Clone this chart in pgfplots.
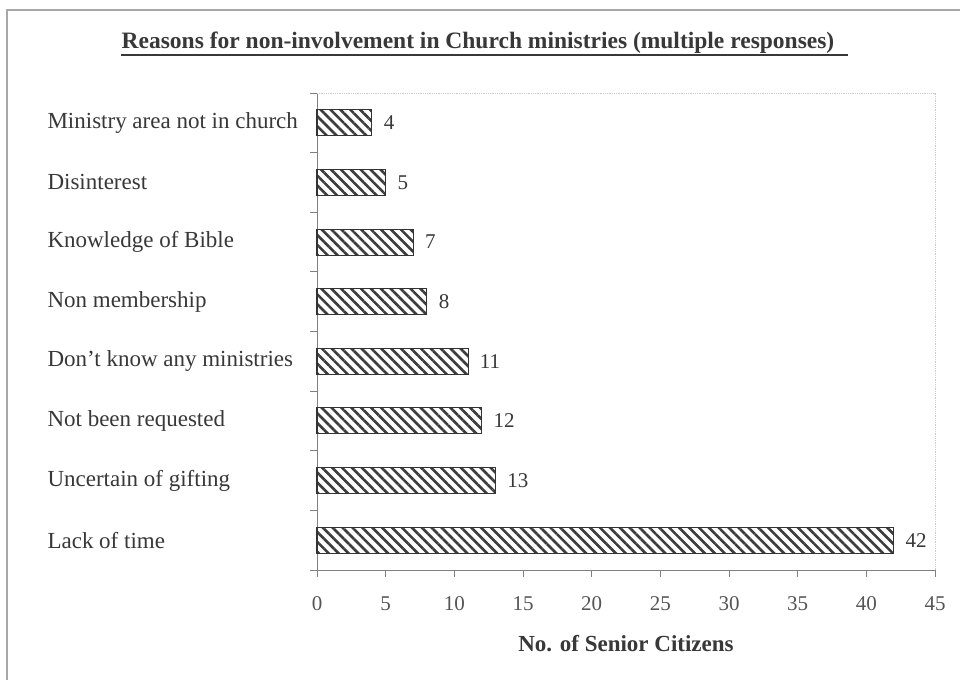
\documentclass[border=0pt]{standalone}
\usepackage{fontspec}
\setmainfont{Liberation Serif}
\usepackage{pgfplots}
\pgfplotsset{compat=1.18}
\usetikzlibrary{patterns.meta}

\definecolor{txt}{HTML}{383838}
\definecolor{ticktxt}{HTML}{555555}
\definecolor{axisgray}{HTML}{808080}
\definecolor{framegray}{HTML}{A8A8A8}
\definecolor{hatch}{HTML}{3C3C3C}

\begin{document}
\begin{tikzpicture}
  % page area and outer frame
  \path[use as bounding box] (0pt,0pt) rectangle (960pt,680pt);
  \fill[white] (0pt,0pt) rectangle (960pt,680pt);
  \draw[framegray, line width=1.2pt] (7pt,0pt) -- (7pt,670pt) -- (960pt,670pt);

  % underlined title
  \node[anchor=base, font=\fontsize{23.5}{27}\selectfont\bfseries, text=txt]
    at (478pt,631pt) {Reasons for non-involvement in Church ministries (multiple responses)};
  \draw[txt, line width=1.1pt] (121pt,625pt) -- (848pt,625pt);

  \begin{axis}[
    at={(317pt,110pt)}, anchor=south west,
    scale only axis, width=618pt, height=477pt,
    xbar, bar width=26pt,
    xmin=0, xmax=45, ymin=-0.5, ymax=7.5,
    xtick={0,5,...,45},
    ytick={-0.5,0.5,...,7.5},
    yticklabels={},
    extra y ticks={0,...,7},
    extra y tick labels={Lack of time, Uncertain of gifting, Not been requested,
      Don't know any ministries, Non membership, Knowledge of Bible,
      Disinterest, Ministry area not in church},
    extra y tick style={major tick length=0pt},
    y tick label style={anchor=west, xshift=-273pt,
      font=\fontsize{23}{27}\selectfont, text=txt},
    x tick label style={font=\fontsize{21}{25}\selectfont, text=ticktxt, yshift=-16pt},
    /pgf/number format/assume math mode=true,
    axis lines*=left,
    axis line style={axisgray, line width=0.9pt},
    tick style={axisgray, line width=0.9pt},
    tick align=outside,
    major tick length=7pt,
    xlabel={No. of Senior Citizens},
    xlabel style={font=\fontsize{23}{27}\selectfont\bfseries, text=txt, yshift=-18pt},
    nodes near coords,
    nodes near coords style={font=\fontsize{21}{25}\selectfont, text=txt,
      anchor=west, xshift=8pt},
    clip=false,
  ]
    % faint upper and right borders of the plot area
    \draw[framegray!60, line width=0.8pt, densely dotted]
      (rel axis cs:0,1) -- (rel axis cs:1,1) -- (rel axis cs:1,0);
    \addplot[draw=black!80, line width=1.1pt,
      pattern={Lines[angle=-45, distance=7pt, line width=2.6pt]},
      pattern color=hatch]
      coordinates {(42,0) (13,1) (12,2) (11,3) (8,4) (7,5) (5,6) (4,7)};
  \end{axis}
\end{tikzpicture}
\end{document}
